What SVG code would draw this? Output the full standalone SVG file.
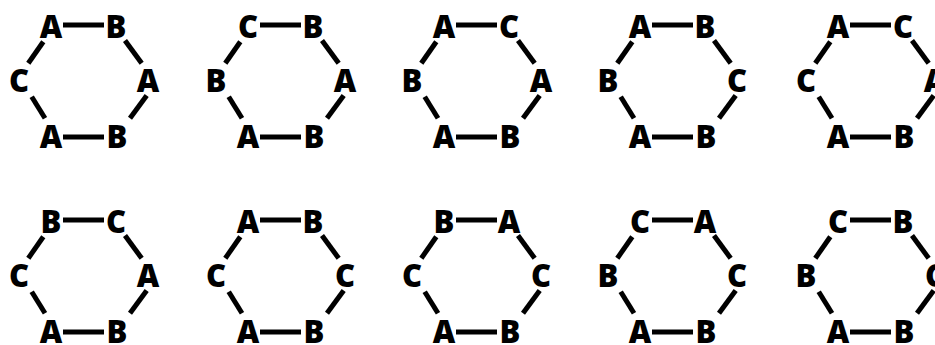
<svg xmlns="http://www.w3.org/2000/svg" xmlns:xlink="http://www.w3.org/1999/xlink" width="935" height="345" viewBox="0 0 935 345">
<style>
text{font-family:"Open Sans","Liberation Sans",sans-serif;font-weight:800;font-size:31px;fill:#000;text-anchor:middle}
.e{stroke:#000;stroke-width:5;fill:none}
</style>
<defs>
<g id="edges" class="e">
<path d="M63,25H104"/>
<path d="M63,137H104"/>
<path d="M43.3,41.7L28.3,63.3"/>
<path d="M31.7,96.7L45,118.3"/>
<path d="M125,40.5L141.7,63.3"/>
<path d="M146.7,95.5L130,118.3"/>
</g>
</defs>
<g id="connectors">
<use xlink:href="#edges" transform="translate(0,0)"/>
<use xlink:href="#edges" transform="translate(197,0)"/>
<use xlink:href="#edges" transform="translate(393,0)"/>
<use xlink:href="#edges" transform="translate(589,0)"/>
<use xlink:href="#edges" transform="translate(787,0)"/>
<use xlink:href="#edges" transform="translate(0,195)"/>
<use xlink:href="#edges" transform="translate(197,195)"/>
<use xlink:href="#edges" transform="translate(393,195)"/>
<use xlink:href="#edges" transform="translate(589,195)"/>
<use xlink:href="#edges" transform="translate(787,195)"/>
</g>
<g id="hex1" transform="translate(0,0)"><text x="51" y="38">A</text><text x="116" y="38">B</text><text x="19" y="92">C</text><text x="148" y="92">A</text><text x="51" y="148">A</text><text x="117" y="148">B</text></g>
<g id="hex2" transform="translate(197,0)"><text x="51" y="38">C</text><text x="116" y="38">B</text><text x="19" y="92">B</text><text x="148" y="92">A</text><text x="51" y="148">A</text><text x="117" y="148">B</text></g>
<g id="hex3" transform="translate(393,0)"><text x="51" y="38">A</text><text x="116" y="38">C</text><text x="19" y="92">B</text><text x="148" y="92">A</text><text x="51" y="148">A</text><text x="117" y="148">B</text></g>
<g id="hex4" transform="translate(589,0)"><text x="51" y="38">A</text><text x="116" y="38">B</text><text x="19" y="92">B</text><text x="148" y="92">C</text><text x="51" y="148">A</text><text x="117" y="148">B</text></g>
<g id="hex5" transform="translate(787,0)"><text x="51" y="38">A</text><text x="116" y="38">C</text><text x="19" y="92">C</text><text x="148" y="92">A</text><text x="51" y="148">A</text><text x="117" y="148">B</text></g>
<g id="hex6" transform="translate(0,195)"><text x="51" y="38">B</text><text x="116" y="38">C</text><text x="19" y="92">C</text><text x="148" y="92">A</text><text x="51" y="148">A</text><text x="117" y="148">B</text></g>
<g id="hex7" transform="translate(197,195)"><text x="51" y="38">A</text><text x="116" y="38">B</text><text x="19" y="92">C</text><text x="148" y="92">C</text><text x="51" y="148">A</text><text x="117" y="148">B</text></g>
<g id="hex8" transform="translate(393,195)"><text x="51" y="38">B</text><text x="116" y="38">A</text><text x="19" y="92">C</text><text x="148" y="92">C</text><text x="51" y="148">A</text><text x="117" y="148">B</text></g>
<g id="hex9" transform="translate(589,195)"><text x="51" y="38">C</text><text x="116" y="38">A</text><text x="19" y="92">B</text><text x="148" y="92">C</text><text x="51" y="148">A</text><text x="117" y="148">B</text></g>
<g id="hex10" transform="translate(787,195)"><text x="51" y="38">C</text><text x="116" y="38">B</text><text x="19" y="92">B</text><text x="148" y="92">C</text><text x="51" y="148">A</text><text x="117" y="148">B</text></g>
</svg>
